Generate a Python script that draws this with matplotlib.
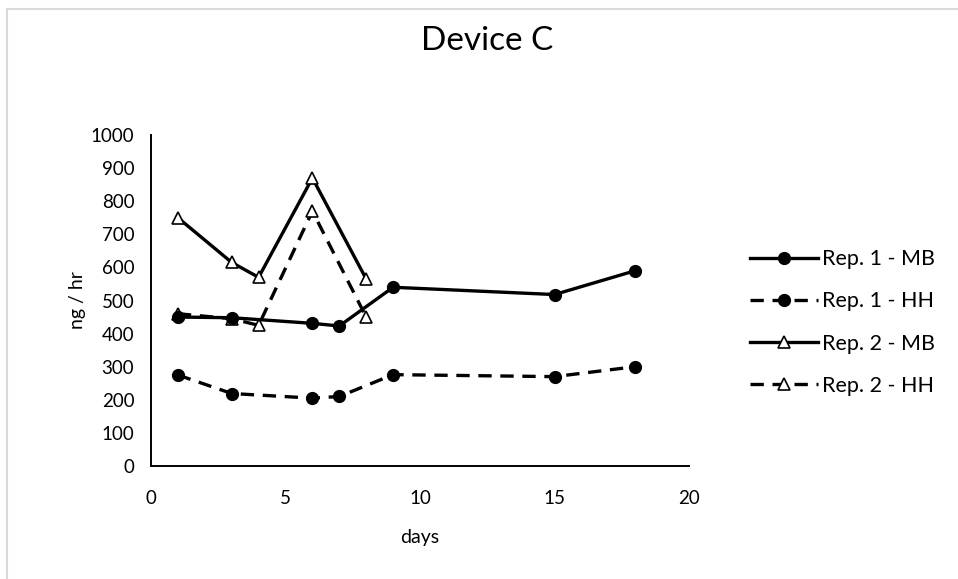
import matplotlib
matplotlib.use("Agg")
import matplotlib.pyplot as plt
from matplotlib.patches import Rectangle

plt.rcParams['font.family'] = ['Lato', 'DejaVu Sans']

# Sampling days and emission rates (ng/hr)
days_rep1 = [1, 3, 6, 7, 9, 15, 18]
rep1_mb = [450, 448, 431, 423, 540, 518, 590]
rep1_hh = [275, 219, 205, 210, 276, 270, 300]

days_rep2 = [1, 3, 4, 6, 8]
rep2_mb = [750, 615, 570, 870, 565]
rep2_hh = [460, 445, 425, 770, 450]

x_ticks = [0, 5, 10, 15, 20]
y_ticks = list(range(0, 1001, 100))

W, H = 958, 579
fig = plt.figure(figsize=(W / 100, H / 100), dpi=100)
ax = fig.add_axes([151 / W, 1 - 466 / H, (689 - 151) / W, (466 - 135) / H])

lw = 2.4
dash = (4, 2.6)
ms = 8.5

ax.plot(days_rep2, rep2_hh, color='black', lw=lw, linestyle=(0, dash),
        marker='^', markersize=ms, markerfacecolor='white',
        markeredgecolor='black', markeredgewidth=1.2, label='Rep. 2 - HH', zorder=3)
ax.plot(days_rep2, rep2_mb, color='black', lw=lw, linestyle='-',
        marker='^', markersize=ms, markerfacecolor='white',
        markeredgecolor='black', markeredgewidth=1.2, label='Rep. 2 - MB', zorder=4)
ax.plot(days_rep1, rep1_hh, color='black', lw=lw, linestyle=(0, dash),
        marker='o', markersize=ms, label='Rep. 1 - HH', zorder=5)
ax.plot(days_rep1, rep1_mb, color='black', lw=lw, linestyle='-',
        marker='o', markersize=ms, label='Rep. 1 - MB', zorder=6)

ax.set_xlim(0, 20)
ax.set_ylim(0, 1000)
ax.set_xticks(x_ticks)
ax.set_yticks(y_ticks)
ax.tick_params(length=0, labelsize=13.5)
ax.tick_params(axis='x', pad=17)
ax.tick_params(axis='y', pad=12)
for side in ('top', 'right'):
    ax.spines[side].set_visible(False)
for side in ('left', 'bottom'):
    ax.spines[side].set_color('black')
    ax.spines[side].set_linewidth(1.4)

fig.text(420 / W, 1 - 537 / H, 'days', fontsize=14, ha='center', va='center')
fig.text(78 / W, 1 - 300 / H, 'ng / hr', fontsize=14, ha='center', va='center',
         rotation=90)
fig.text(487 / W, 1 - 41 / H, 'Device C', fontsize=24, ha='center', va='center')

handles, labels = ax.get_legend_handles_labels()
order = [3, 2, 1, 0]
leg = fig.legend([handles[i] for i in order], [labels[i] for i in order],
                 loc='center left', bbox_to_anchor=(750 / W, 1 - 322.5 / H),
                 frameon=False, fontsize=15.5, handlelength=3.15, labelspacing=1.03,
                 handletextpad=0.2, borderpad=0, borderaxespad=0)

# light chart-area border along the top and left edges
fig.patches.append(Rectangle((7 / W, -0.1), 1.2, 1 - 9 / H + 0.1,
                             transform=fig.transFigure, fill=False,
                             edgecolor='#d9d9d9', lw=1.5))

fig.savefig('out.png', dpi=100)
